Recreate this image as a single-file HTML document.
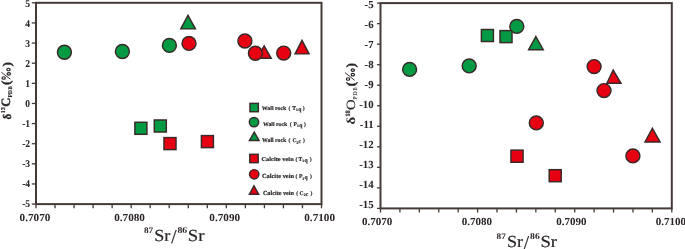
<!DOCTYPE html>
<html><head><meta charset="utf-8"><style>
html,body{margin:0;padding:0;background:#fff;}
body{width:685px;height:249px;overflow:hidden;}
svg{display:block;will-change:transform;}
text{text-rendering:geometricPrecision;}
.b{font-family:"Liberation Serif",serif;font-weight:bold;fill:#2a2424;stroke:#2a2424;stroke-width:0.05px;}
.bt{font-family:"Liberation Serif",serif;font-weight:bold;fill:#2a2424;}
.r{font-family:"Liberation Serif",serif;fill:#2a2424;stroke:#2a2424;stroke-width:0.2px;}
.rt{font-family:"Liberation Serif",serif;fill:#2a2424;stroke:#2a2424;stroke-width:0.15px;}
.r0{font-family:"Liberation Serif",serif;fill:#2a2424;stroke:#2a2424;stroke-width:0.1px;}
.pb{font-family:"Liberation Serif",serif;font-weight:bold;fill:#2a2424;stroke:#2a2424;stroke-width:0.35px;}
.lb{font-family:"Liberation Serif",serif;font-weight:bold;fill:#2a2424;stroke:#2a2424;stroke-width:0.18px;}
.rs{font-family:"Liberation Serif",serif;fill:#2a2424;stroke:#2a2424;stroke-width:0.4px;}
</style></head><body>
<svg width="685" height="249" viewBox="0 0 685 249">
<rect x="36" y="2.8" width="285.5" height="201.30" fill="none" stroke="#443a38" stroke-width="2"/>
<line x1="31.8" y1="2.80" x2="36" y2="2.80" stroke="#443a38" stroke-width="1.3"/>
<text transform="translate(30.10,7.20) scale(0.92,1)" font-size="10.4" text-anchor="end" class="b">5</text>
<line x1="31.8" y1="22.93" x2="36" y2="22.93" stroke="#443a38" stroke-width="1.3"/>
<text transform="translate(30.10,27.16) scale(0.92,1)" font-size="10.4" text-anchor="end" class="b">4</text>
<line x1="31.8" y1="43.06" x2="36" y2="43.06" stroke="#443a38" stroke-width="1.3"/>
<text transform="translate(30.10,47.12) scale(0.92,1)" font-size="10.4" text-anchor="end" class="b">3</text>
<line x1="31.8" y1="63.19" x2="36" y2="63.19" stroke="#443a38" stroke-width="1.3"/>
<text transform="translate(30.10,67.08) scale(0.92,1)" font-size="10.4" text-anchor="end" class="b">2</text>
<line x1="31.8" y1="83.32" x2="36" y2="83.32" stroke="#443a38" stroke-width="1.3"/>
<text transform="translate(30.10,87.04) scale(0.92,1)" font-size="10.4" text-anchor="end" class="b">1</text>
<line x1="31.8" y1="103.45" x2="36" y2="103.45" stroke="#443a38" stroke-width="1.3"/>
<text transform="translate(30.10,107.00) scale(0.92,1)" font-size="10.4" text-anchor="end" class="b">0</text>
<line x1="31.8" y1="123.58" x2="36" y2="123.58" stroke="#443a38" stroke-width="1.3"/>
<text transform="translate(30.10,126.96) scale(0.92,1)" font-size="10.4" text-anchor="end" class="b">-1</text>
<line x1="31.8" y1="143.71" x2="36" y2="143.71" stroke="#443a38" stroke-width="1.3"/>
<text transform="translate(30.10,146.92) scale(0.92,1)" font-size="10.4" text-anchor="end" class="b">-2</text>
<line x1="31.8" y1="163.84" x2="36" y2="163.84" stroke="#443a38" stroke-width="1.3"/>
<text transform="translate(30.10,166.88) scale(0.92,1)" font-size="10.4" text-anchor="end" class="b">-3</text>
<line x1="31.8" y1="183.97" x2="36" y2="183.97" stroke="#443a38" stroke-width="1.3"/>
<text transform="translate(30.10,186.84) scale(0.92,1)" font-size="10.4" text-anchor="end" class="b">-4</text>
<line x1="31.8" y1="204.10" x2="36" y2="204.10" stroke="#443a38" stroke-width="1.3"/>
<text transform="translate(30.10,206.80) scale(0.92,1)" font-size="10.4" text-anchor="end" class="b">-5</text>
<line x1="36.00" y1="204.1" x2="36.00" y2="208.30" stroke="#443a38" stroke-width="1.3"/>
<line x1="55.03" y1="204.1" x2="55.03" y2="208.30" stroke="#443a38" stroke-width="1.3"/>
<line x1="74.07" y1="204.1" x2="74.07" y2="208.30" stroke="#443a38" stroke-width="1.3"/>
<line x1="93.10" y1="204.1" x2="93.10" y2="208.30" stroke="#443a38" stroke-width="1.3"/>
<line x1="112.13" y1="204.1" x2="112.13" y2="208.30" stroke="#443a38" stroke-width="1.3"/>
<line x1="131.17" y1="204.1" x2="131.17" y2="208.30" stroke="#443a38" stroke-width="1.3"/>
<line x1="150.20" y1="204.1" x2="150.20" y2="208.30" stroke="#443a38" stroke-width="1.3"/>
<line x1="169.23" y1="204.1" x2="169.23" y2="208.30" stroke="#443a38" stroke-width="1.3"/>
<line x1="188.27" y1="204.1" x2="188.27" y2="208.30" stroke="#443a38" stroke-width="1.3"/>
<line x1="207.30" y1="204.1" x2="207.30" y2="208.30" stroke="#443a38" stroke-width="1.3"/>
<line x1="226.33" y1="204.1" x2="226.33" y2="208.30" stroke="#443a38" stroke-width="1.3"/>
<line x1="245.37" y1="204.1" x2="245.37" y2="208.30" stroke="#443a38" stroke-width="1.3"/>
<line x1="264.40" y1="204.1" x2="264.40" y2="208.30" stroke="#443a38" stroke-width="1.3"/>
<line x1="283.43" y1="204.1" x2="283.43" y2="208.30" stroke="#443a38" stroke-width="1.3"/>
<line x1="302.47" y1="204.1" x2="302.47" y2="208.30" stroke="#443a38" stroke-width="1.3"/>
<line x1="321.50" y1="204.1" x2="321.50" y2="208.30" stroke="#443a38" stroke-width="1.3"/>
<text transform="translate(19.57,220.55) scale(1.040,1)" font-size="10.75" class="bt">0.7070</text>
<text transform="translate(114.17,220.55) scale(1.040,1)" font-size="10.75" class="bt">0.7080</text>
<text transform="translate(209.37,220.55) scale(1.040,1)" font-size="10.75" class="bt">0.7090</text>
<text transform="translate(304.27,220.55) scale(1.040,1)" font-size="10.75" class="bt">0.7100</text>
<text transform="translate(143.99,232.82) scale(1.074,1)" font-size="8.60" class="bt">87</text>
<text transform="translate(154.29,241.23) scale(1.065,1)" font-size="16.97" class="r">Sr</text>
<text transform="translate(171.20,242.51) scale(0.967,1)" font-size="19.73" class="r">/</text>
<text transform="translate(177.48,232.61) scale(1.092,1)" font-size="8.89" class="bt">86</text>
<text transform="translate(187.85,241.23) scale(1.101,1)" font-size="16.97" class="r">Sr</text>
<text transform="translate(10.63,119.50) rotate(-90) scale(0.945,1)" font-size="11.63" class="pb">δ</text>
<text transform="translate(4.54,113.19) rotate(-90) scale(1.024,1)" font-size="5.95" class="lb">13</text>
<text transform="translate(10.38,106.71) rotate(-90) scale(0.968,1)" font-size="12.80" class="pb">C</text>
<text transform="translate(12.40,97.60) rotate(-90) scale(1.002,1)" font-size="5.65" class="lb">P</text>
<text transform="translate(12.39,94.09) rotate(-90) scale(0.947,1)" font-size="5.63" class="lb">D</text>
<text transform="translate(12.38,89.58) rotate(-90) scale(0.857,1)" font-size="5.63" class="lb">B</text>
<text transform="translate(10.47,85.10) rotate(-90) scale(1.103,1)" font-size="12.35" class="pb">(</text>
<ellipse cx="3.7" cy="78.0" rx="1.65" ry="1.25" fill="none" stroke="#2a2424" stroke-width="1.2"/><ellipse cx="8.8" cy="73.8" rx="1.65" ry="1.25" fill="none" stroke="#2a2424" stroke-width="1.2"/><ellipse cx="8.5" cy="69.5" rx="1.65" ry="1.25" fill="none" stroke="#2a2424" stroke-width="1.2"/><line x1="1.4" y1="72.3" x2="10.4" y2="79.2" stroke="#2a2424" stroke-width="0.9"/>
<text transform="translate(10.52,66.53) rotate(-90) scale(1.091,1)" font-size="12.13" class="pb">)</text>
<rect x="134.88" y="122.28" width="12.05" height="12.05" fill="#049a43" stroke="#382a28" stroke-width="1.45"/>
<rect x="154.28" y="119.97" width="12.05" height="12.05" fill="#049a43" stroke="#382a28" stroke-width="1.45"/>
<rect x="163.97" y="137.57" width="12.05" height="12.05" fill="#e60012" stroke="#382a28" stroke-width="1.45"/>
<rect x="201.38" y="135.57" width="12.05" height="12.05" fill="#e60012" stroke="#382a28" stroke-width="1.45"/>
<polygon points="188.00,15.30 195.42,28.89 180.78,28.89" fill="#049a43" stroke="#382a28" stroke-width="1.45"/>
<polygon points="264.10,45.91 271.22,58.29 256.78,58.29" fill="#e60012" stroke="#382a28" stroke-width="1.45"/>
<polygon points="302.00,40.41 309.12,53.89 295.08,53.89" fill="#e60012" stroke="#382a28" stroke-width="1.45"/>
<circle cx="64.4" cy="52.3" r="6.98" fill="#049a43" stroke="#382a28" stroke-width="1.45"/>
<circle cx="122.4" cy="51.5" r="6.98" fill="#049a43" stroke="#382a28" stroke-width="1.45"/>
<circle cx="169.4" cy="45.4" r="6.98" fill="#049a43" stroke="#382a28" stroke-width="1.45"/>
<circle cx="189" cy="43.4" r="6.98" fill="#e60012" stroke="#382a28" stroke-width="1.45"/>
<circle cx="244.9" cy="41" r="6.98" fill="#e60012" stroke="#382a28" stroke-width="1.45"/>
<circle cx="255.4" cy="53.3" r="6.98" fill="#e60012" stroke="#382a28" stroke-width="1.45"/>
<circle cx="283.7" cy="53.1" r="6.98" fill="#e60012" stroke="#382a28" stroke-width="1.45"/>
<rect x="249.97" y="103.38" width="8.35" height="8.35" fill="#049a43" stroke="#382a28" stroke-width="1.45"/>
<circle cx="254.0" cy="122.1" r="4.68" fill="#049a43" stroke="#382a28" stroke-width="1.45"/>
<polygon points="254.20,132.21 259.07,140.47 249.43,140.47" fill="#049a43" stroke="#382a28" stroke-width="1.45"/>
<rect x="249.82" y="154.32" width="8.35" height="8.35" fill="#e60012" stroke="#382a28" stroke-width="1.45"/>
<circle cx="254.2" cy="174.3" r="4.68" fill="#e60012" stroke="#382a28" stroke-width="1.45"/>
<polygon points="254.00,185.81 258.67,194.18 249.43,194.18" fill="#e60012" stroke="#382a28" stroke-width="1.45"/>
<text transform="translate(261.72,110.11) scale(1.025,1)" font-size="5.78" class="lb">Wall rock</text>
<text x="288.50" y="110.00" font-size="5.6" class="lb">(</text>
<text x="292.30" y="110.00" font-size="5.6" class="lb">T<tspan font-size="3.8" dy="1.3">1</tspan><tspan dy="-0.3" dx="0.2">q</tspan></text>
<text x="302.80" y="110.00" font-size="5.6" class="lb">)</text>
<text transform="translate(262.92,126.11) scale(1.013,1)" font-size="5.78" class="lb">Wall rock</text>
<text x="289.70" y="126.00" font-size="5.6" class="lb">(</text>
<text x="293.60" y="126.00" font-size="5.6" class="lb">P<tspan font-size="3.8" dy="1.3">1</tspan><tspan dy="-0.3" dx="0.2">q</tspan></text>
<text x="303.90" y="126.00" font-size="5.6" class="lb">)</text>
<text transform="translate(262.02,142.41) scale(0.954,1)" font-size="6.07" class="lb">Wall rock</text>
<text x="288.60" y="142.30" font-size="5.6" class="lb">(</text>
<text x="292.40" y="142.30" font-size="5.6" class="lb">C<tspan font-size="3.8" dy="1.3">2</tspan><tspan dy="-0.3" dx="0.2">c</tspan></text>
<text x="302.90" y="142.30" font-size="5.6" class="lb">)</text>
<text transform="translate(261.49,161.14) scale(1.100,1)" font-size="5.83" class="lb">Calcite vein</text>
<text x="295.50" y="161.00" font-size="5.6" class="lb">(</text>
<text x="298.60" y="161.00" font-size="5.6" class="lb">T<tspan font-size="3.8" dy="1.3">1</tspan><tspan dy="-0.3" dx="0.2">q</tspan></text>
<text x="309.70" y="161.00" font-size="5.6" class="lb">)</text>
<text transform="translate(261.99,178.44) scale(1.018,1)" font-size="6.25" class="lb">Calcite vein</text>
<text x="295.60" y="178.30" font-size="5.6" class="lb">(</text>
<text x="298.90" y="178.30" font-size="5.6" class="lb">P<tspan font-size="3.8" dy="1.3">1</tspan><tspan dy="-0.3" dx="0.2">q</tspan></text>
<text x="309.90" y="178.30" font-size="5.6" class="lb">)</text>
<text transform="translate(262.90,195.14) scale(0.989,1)" font-size="6.25" class="lb">Calcite vein</text>
<text x="296.20" y="195.00" font-size="5.6" class="lb">(</text>
<text x="299.60" y="195.00" font-size="5.6" class="lb">C<tspan font-size="3.8" dy="1.3">2</tspan><tspan dy="-0.3" dx="0.2">c</tspan></text>
<text x="310.40" y="195.00" font-size="5.6" class="lb">)</text>
<rect x="380.5" y="3.1" width="291.30" height="205.30" fill="none" stroke="#443a38" stroke-width="2"/>
<line x1="377" y1="3.10" x2="380.5" y2="3.10" stroke="#443a38" stroke-width="1.3"/>
<text transform="translate(373.60,8.20) scale(1.0,1)" font-size="10.8" text-anchor="end" class="b">-5</text>
<line x1="377" y1="23.63" x2="380.5" y2="23.63" stroke="#443a38" stroke-width="1.3"/>
<text transform="translate(373.60,28.22) scale(1.0,1)" font-size="10.8" text-anchor="end" class="b">-6</text>
<line x1="377" y1="44.16" x2="380.5" y2="44.16" stroke="#443a38" stroke-width="1.3"/>
<text transform="translate(373.60,48.24) scale(1.0,1)" font-size="10.8" text-anchor="end" class="b">-7</text>
<line x1="377" y1="64.69" x2="380.5" y2="64.69" stroke="#443a38" stroke-width="1.3"/>
<text transform="translate(373.60,68.26) scale(1.0,1)" font-size="10.8" text-anchor="end" class="b">-8</text>
<line x1="377" y1="85.22" x2="380.5" y2="85.22" stroke="#443a38" stroke-width="1.3"/>
<text transform="translate(373.60,88.28) scale(1.0,1)" font-size="10.8" text-anchor="end" class="b">-9</text>
<line x1="377" y1="105.75" x2="380.5" y2="105.75" stroke="#443a38" stroke-width="1.3"/>
<text transform="translate(373.60,108.30) scale(1.0,1)" font-size="10.8" text-anchor="end" class="b">-10</text>
<line x1="377" y1="126.28" x2="380.5" y2="126.28" stroke="#443a38" stroke-width="1.3"/>
<text transform="translate(373.60,128.32) scale(1.0,1)" font-size="10.8" text-anchor="end" class="b">-11</text>
<line x1="377" y1="146.81" x2="380.5" y2="146.81" stroke="#443a38" stroke-width="1.3"/>
<text transform="translate(373.60,148.34) scale(1.0,1)" font-size="10.8" text-anchor="end" class="b">-12</text>
<line x1="377" y1="167.34" x2="380.5" y2="167.34" stroke="#443a38" stroke-width="1.3"/>
<text transform="translate(373.60,168.36) scale(1.0,1)" font-size="10.8" text-anchor="end" class="b">-13</text>
<line x1="377" y1="187.87" x2="380.5" y2="187.87" stroke="#443a38" stroke-width="1.3"/>
<text transform="translate(373.60,188.38) scale(1.0,1)" font-size="10.8" text-anchor="end" class="b">-14</text>
<line x1="377" y1="208.40" x2="380.5" y2="208.40" stroke="#443a38" stroke-width="1.3"/>
<text transform="translate(373.60,208.40) scale(1.0,1)" font-size="10.8" text-anchor="end" class="b">-15</text>
<line x1="380.50" y1="208.4" x2="380.50" y2="212.60" stroke="#443a38" stroke-width="1.3"/>
<line x1="399.92" y1="208.4" x2="399.92" y2="212.60" stroke="#443a38" stroke-width="1.3"/>
<line x1="419.34" y1="208.4" x2="419.34" y2="212.60" stroke="#443a38" stroke-width="1.3"/>
<line x1="438.76" y1="208.4" x2="438.76" y2="212.60" stroke="#443a38" stroke-width="1.3"/>
<line x1="458.18" y1="208.4" x2="458.18" y2="212.60" stroke="#443a38" stroke-width="1.3"/>
<line x1="477.60" y1="208.4" x2="477.60" y2="212.60" stroke="#443a38" stroke-width="1.3"/>
<line x1="497.02" y1="208.4" x2="497.02" y2="212.60" stroke="#443a38" stroke-width="1.3"/>
<line x1="516.44" y1="208.4" x2="516.44" y2="212.60" stroke="#443a38" stroke-width="1.3"/>
<line x1="535.86" y1="208.4" x2="535.86" y2="212.60" stroke="#443a38" stroke-width="1.3"/>
<line x1="555.28" y1="208.4" x2="555.28" y2="212.60" stroke="#443a38" stroke-width="1.3"/>
<line x1="574.70" y1="208.4" x2="574.70" y2="212.60" stroke="#443a38" stroke-width="1.3"/>
<line x1="594.12" y1="208.4" x2="594.12" y2="212.60" stroke="#443a38" stroke-width="1.3"/>
<line x1="613.54" y1="208.4" x2="613.54" y2="212.60" stroke="#443a38" stroke-width="1.3"/>
<line x1="632.96" y1="208.4" x2="632.96" y2="212.60" stroke="#443a38" stroke-width="1.3"/>
<line x1="652.38" y1="208.4" x2="652.38" y2="212.60" stroke="#443a38" stroke-width="1.3"/>
<line x1="671.80" y1="208.4" x2="671.80" y2="212.60" stroke="#443a38" stroke-width="1.3"/>
<text transform="translate(362.08,225.25) scale(1.023,1)" font-size="10.75" class="bt">0.7070</text>
<text transform="translate(461.78,225.25) scale(1.023,1)" font-size="10.75" class="bt">0.7080</text>
<text transform="translate(556.33,225.25) scale(1.023,1)" font-size="10.75" class="bt">0.7090</text>
<text transform="translate(655.78,225.25) scale(1.023,1)" font-size="10.75" class="bt">0.7100</text>
<text transform="translate(496.59,238.92) scale(1.074,1)" font-size="8.60" class="bt">87</text>
<text transform="translate(506.89,247.33) scale(1.065,1)" font-size="16.97" class="r">Sr</text>
<text transform="translate(523.80,248.61) scale(0.967,1)" font-size="19.73" class="r">/</text>
<text transform="translate(530.08,238.71) scale(1.092,1)" font-size="8.89" class="bt">86</text>
<text transform="translate(540.45,247.33) scale(1.101,1)" font-size="16.97" class="r">Sr</text>
<text transform="translate(354.72,124.44) rotate(-90) scale(1.214,1)" font-size="12.20" class="bt">δ</text>
<text transform="translate(350.03,116.71) rotate(-90) scale(0.964,1)" font-size="6.67" class="lb">18</text>
<text transform="translate(354.58,109.90) rotate(-90) scale(1.161,1)" font-size="12.65" class="rt">O</text>
<text transform="translate(357.00,99.78) rotate(-90) scale(1.034,1)" font-size="5.96" class="r0">P</text>
<text transform="translate(356.99,95.46) rotate(-90) scale(0.954,1)" font-size="5.94" class="r0">D</text>
<text transform="translate(356.98,90.44) rotate(-90) scale(0.801,1)" font-size="5.93" class="r0">B</text>
<text transform="translate(354.70,86.43) rotate(-90) scale(1.136,1)" font-size="12.68" class="pb">(</text>
<ellipse cx="348.0" cy="79.0" rx="1.65" ry="1.25" fill="none" stroke="#2a2424" stroke-width="1.2"/><ellipse cx="352.8" cy="74.7" rx="1.65" ry="1.25" fill="none" stroke="#2a2424" stroke-width="1.2"/><ellipse cx="352.8" cy="70.1" rx="1.65" ry="1.25" fill="none" stroke="#2a2424" stroke-width="1.2"/><line x1="345.0" y1="72.6" x2="354.7" y2="80.4" stroke="#2a2424" stroke-width="0.9"/>
<text transform="translate(354.70,67.53) rotate(-90) scale(1.044,1)" font-size="12.68" class="pb">)</text>
<rect x="481.38" y="29.48" width="12.05" height="12.05" fill="#049a43" stroke="#382a28" stroke-width="1.45"/>
<rect x="499.98" y="30.58" width="12.05" height="12.05" fill="#049a43" stroke="#382a28" stroke-width="1.45"/>
<rect x="510.93" y="150.12" width="12.15" height="12.15" fill="#e60012" stroke="#382a28" stroke-width="1.45"/>
<rect x="549.18" y="169.67" width="12.05" height="12.05" fill="#e60012" stroke="#382a28" stroke-width="1.45"/>
<polygon points="535.90,36.60 543.22,49.69 528.58,49.69" fill="#049a43" stroke="#382a28" stroke-width="1.45"/>
<polygon points="613.20,70.01 621.02,83.29 606.88,83.29" fill="#e60012" stroke="#382a28" stroke-width="1.45"/>
<polygon points="652.40,128.31 660.12,141.99 644.98,141.99" fill="#e60012" stroke="#382a28" stroke-width="1.45"/>
<circle cx="409.6" cy="69.4" r="6.98" fill="#049a43" stroke="#382a28" stroke-width="1.45"/>
<circle cx="469.2" cy="65.9" r="6.98" fill="#049a43" stroke="#382a28" stroke-width="1.45"/>
<circle cx="516.8" cy="26.4" r="6.98" fill="#049a43" stroke="#382a28" stroke-width="1.45"/>
<circle cx="594.1" cy="66.6" r="6.98" fill="#e60012" stroke="#382a28" stroke-width="1.45"/>
<circle cx="604" cy="90.6" r="6.98" fill="#e60012" stroke="#382a28" stroke-width="1.45"/>
<circle cx="536.3" cy="122.9" r="6.98" fill="#e60012" stroke="#382a28" stroke-width="1.45"/>
<circle cx="632.9" cy="155.9" r="6.98" fill="#e60012" stroke="#382a28" stroke-width="1.45"/>
</svg>
</body></html>
